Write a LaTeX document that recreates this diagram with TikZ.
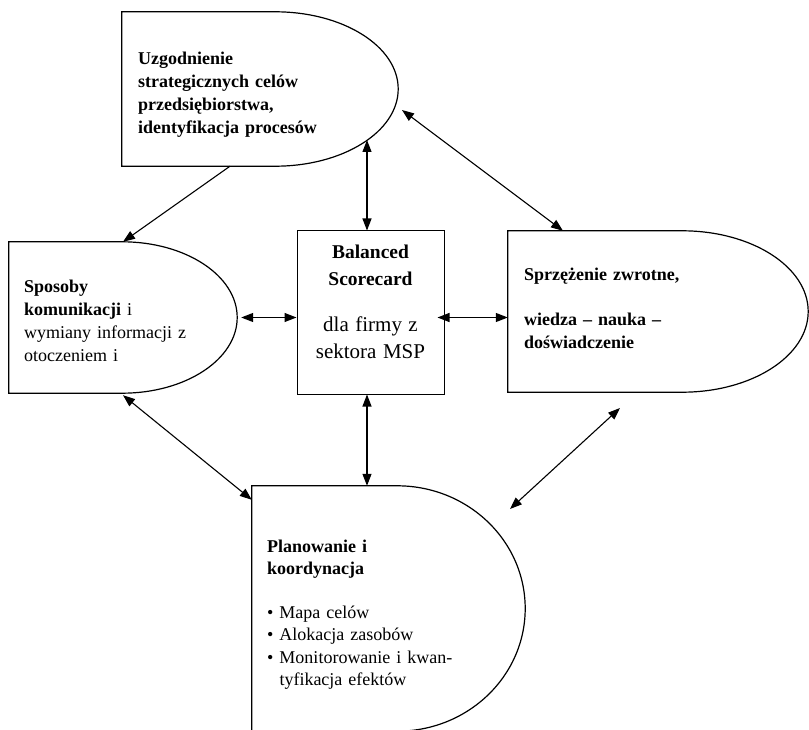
\documentclass[tikz,border=0pt]{standalone}
\usepackage{fontspec}
\setmainfont{Liberation Serif}
\usetikzlibrary{arrows.meta,calc}
\tikzset{
  >={Triangle[length=12pt,width=9pt]},
  link/.style={<->, line width=1.1pt},
  dnode/.style={inner sep=0pt},
  txt/.style={inner sep=0pt, anchor=base west, align=left, text width=250pt},
  card/.style={draw, line width=1pt, inner sep=0pt, minimum width=147pt, minimum height=163pt},
}
\newcommand{\dshape}[2]{%
  \draw[line width=1.2pt] let \p1=(#1.north), \p2=(#1.south) in
    (#1.north west) -- ([xshift=-#2]#1.north east)
    arc[start angle=90, end angle=-90, x radius=#2, y radius={0.5*(\y1-\y2)}]
    -- (#1.south west) -- cycle;}

\begin{document}
\begin{tikzpicture}[x=1pt,y=1pt]
  \useasboundingbox (0,0) rectangle (809,-730);

  \node[dnode, minimum width=276pt, minimum height=154pt] (goal) at (260,-89) {};
  \node[dnode, minimum width=228pt, minimum height=151pt] (comm) at (123,-317.5) {};
  \node[card] (bsc) at (370.5,-312.5) {};
  \node[dnode, minimum width=300pt, minimum height=161pt] (feed) at (658,-311.5) {};
  \node[dnode, minimum width=273pt, minimum height=245pt] (plan) at (388.5,-608.5) {};

  \node[txt, font=\fontsize{18}{22.7}\selectfont\bfseries] (goal-t) at (138,-65)
    {Uzgodnienie\\ strategicznych celów\\ przedsiębiorstwa,\\ identyfikacja procesów};
  \node[txt, font=\fontsize{18}{23.3}\selectfont] (comm-t) at (24,-292)
    {\textbf{Sposoby}\\ \textbf{komunikacji} i\\ wymiany informacji z\\ otoczeniem i};
  \node[inner sep=0pt, anchor=base, align=center, text width=147pt, font=\fontsize{19.5}{27}\selectfont] (bsc-t) at (370.5,-259)
    {\textbf{Balanced}\\ \textbf{Scorecard}\\[19pt] {\fontsize{21}{27}\selectfont dla firmy z}\\ {\fontsize{21}{27}\selectfont sektora MSP}};
  \node[txt, font=\fontsize{18}{23.3}\selectfont\bfseries] (feed-t) at (524,-281)
    {Sprzężenie zwrotne,\\[20.7pt] wiedza – nauka –\\ doświadczenie};
  \node[txt, font=\fontsize{18}{22.5}\selectfont] (plan-t) at (267,-552)
    {\textbf{Planowanie i}\\ \textbf{koordynacja}\\[21pt]
     \textbullet\ Mapa celów\\ \textbullet\ Alokacja zasobów\\
     \textbullet\ Monitorowanie i kwan-\\ \phantom{\textbullet\ }tyfikacja efektów};

  \dshape{goal}{123pt}
  \dshape{comm}{115pt}
  \dshape{feed}{126pt}
  \dshape{plan}{128pt}

  \coordinate (g2) at (367,-140);
  \coordinate (g3) at (402,-110);
  \coordinate (p8) at (510,-509);
  \coordinate (f8) at (620,-408);

  \draw[->, line width=1.1pt] ([xshift=-30pt]goal.south) -- (comm.north);
  \draw[link] (g2) -- (g2 |- bsc.north);
  \draw[link] (g3) -- ([xshift=-95pt]feed.north);
  \draw[link] ([xshift=4pt]comm.east) -- (comm.east -| bsc.west);
  \draw[link] ([xshift=-7pt]bsc.east |- comm.east) -- (feed.west |- comm.east);
  \draw[link] ([yshift=-2pt]comm.south) -- ([yshift=-14pt]plan.north west);
  \draw[link] ([xshift=-3.5pt]bsc.south) -- ([xshift=-3.5pt]bsc.south |- plan.north);
  \draw[link] (p8) -- (f8);
\end{tikzpicture}
\end{document}
